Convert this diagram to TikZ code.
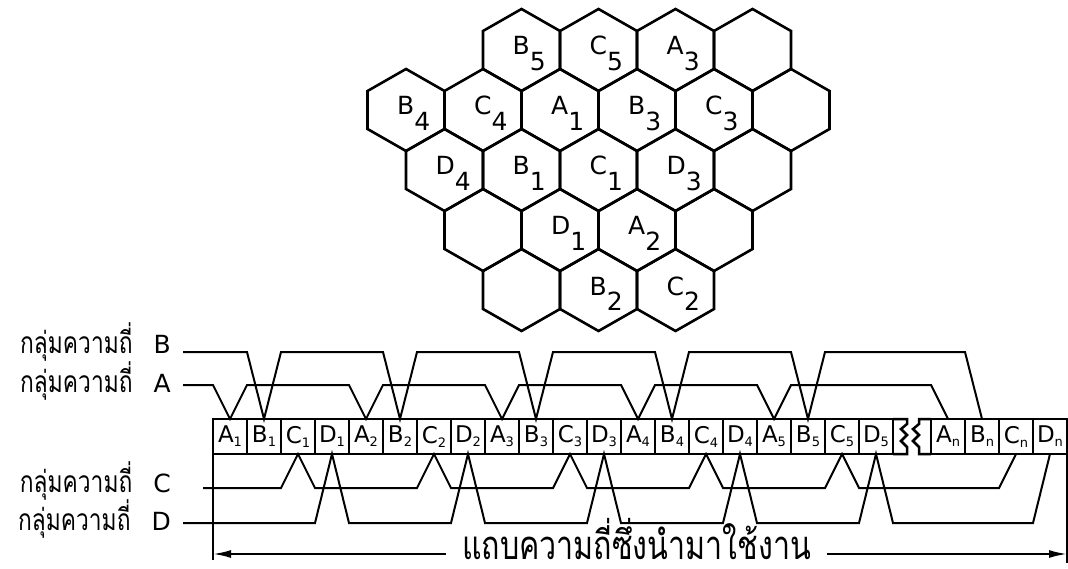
\documentclass[tikz,border=0pt]{standalone}
\usepackage{fontspec}
\setmainfont{DejaVu Sans}
\newfontfamily\thaifont[Script=Thai,FakeStretch=0.76]{Loma}
\usetikzlibrary{arrows.meta}
\newcommand\csub[1]{\raisebox{-4pt}{\fontsize{13}{13}\selectfont #1}}
\newcommand\hsub[1]{\raisebox{-16pt}{#1}}
\tikzset{hexline/.style={line width=2.6pt,line join=miter},hexlab/.style={font=\fontsize{25}{25}\selectfont,inner sep=0pt,anchor=base west},cell/.style={draw,line width=2.5pt,minimum width=34pt,minimum height=35pt,inner sep=0pt,outer sep=0pt,font=\fontsize{23}{23}\selectfont},bar/.style={line width=2.5pt},grp/.style={line width=2pt,line join=miter},grplab/.style={font=\fontsize{25}{25}\selectfont,inner sep=0pt,anchor=base east},band/.style={-{Latex[length=18pt,width=8pt]},line width=2pt}}

\begin{document}
\begin{tikzpicture}[x=1pt,y=-1pt]
\useasboundingbox (0,0) rectangle (1068,569);
% hexagonal cells
\foreach \cx/\cy in {521.5/50,598.5/50,675.5/50,752.5/50,406/110,483/110,560/110,637/110,714/110,791/110,444.5/170,521.5/170,598.5/170,675.5/170,752.5/170,483/230,560/230,637/230,714/230,521.5/290,598.5/290,675.5/290}
  \draw[hexline] (\cx,\cy) ++(0,-41) -- ++(38.5,22) -- ++(0,38) -- ++(-38.5,22) -- ++(-38.5,-22) -- ++(0,-38) -- cycle;
\foreach \cx/\cy/\X/\n in {521.5/50/B/5,598.5/50/C/5,675.5/50/A/3,406/110/B/4,483/110/C/4,560/110/A/1,637/110/B/3,714/110/C/3,444.5/170/D/4,521.5/170/B/1,598.5/170/C/1,675.5/170/D/3,560/230/D/1,637/230/A/2,598.5/290/B/2,675.5/290/C/2}
  \node[hexlab] (h\X\n) at (\cx-9,\cy+5) {\X\hsub{\n}};

% channel bar
\foreach \i in {1,...,5}
  \foreach \X [count=\j from 0] in {A,B,C,D}
    \node[cell] (c\X\i) at ({230+34*(4*\i-4+\j)},436.5) {\X\csub{\i}};
\foreach \X [count=\j from 0] in {A,B,C,D}
  \node[cell] (c\X n) at ({948+34*\j},436.5) {\X\csub{n}};
\draw[bar] (cD5.north east) -- ++(14,0) -- ++(0,5) -- ++(-6,5) -- ++(6,6) -- ++(-6,6) -- ++(6,6) -- ++(0,7) -- (cD5.south east);
\draw[bar] (cAn.north west) -- ++(-12,0) -- ++(0,5) -- ++(-6,5) -- ++(6,6) -- ++(-6,6) -- ++(6,6) -- ++(0,7) -- (cAn.south west);
\draw[bar] (cA1.north west) -- ++(0,141);
\draw[bar] (cDn.north east) -- ++(0,144);

% frequency groups
\node[grplab] (grpB) at (171,353) {{\thaifont\fontsize{30}{30}\selectfont กลุ่มความถี่}\hspace{21pt}B};
\node[grplab] (grpA) at (171,392) {{\thaifont\fontsize{30}{30}\selectfont กลุ่มความถี่}\hspace{21pt}A};
\node[grplab] (grpC) at (171,492) {{\thaifont\fontsize{30}{30}\selectfont กลุ่มความถี่}\hspace{21pt}C};
\node[grplab] (grpD) at (171,530) {{\thaifont\fontsize{30}{30}\selectfont กลุ่มความถี่}\hspace{21pt}D};
\coordinate (startB) at (183,352);
\coordinate (startA) at (183,385);
\coordinate (startC) at (203,488);
\coordinate (startD) at (183,523);
\draw[grp] (startA) \foreach \i in {1,...,5}{ -- (cA\i.north west |- startA) -- (cA\i.north) -- (cA\i.north east |- startA)} -- (cAn.north west |- startA) -- (cAn.north);
\draw[grp] (startB) \foreach \i in {1,...,5}{ -- (cB\i.north west |- startB) -- (cB\i.north) -- (cB\i.north east |- startB)} -- (cBn.north west |- startB) -- (cBn.north);
\draw[grp] (startC) \foreach \i in {1,...,5}{ -- (cC\i.south west |- startC) -- (cC\i.south) -- (cC\i.south east |- startC)} -- (cCn.south west |- startC) -- (cCn.south);
\draw[grp] (startD) \foreach \i in {1,...,5}{ -- (cD\i.south west |- startD) -- (cD\i.south) -- (cD\i.south east |- startD)} -- (cDn.south west |- startD) -- (cDn.south);

% used bandwidth
\node[font=\thaifont\fontsize{40}{40}\selectfont,inner xsep=16pt,inner ysep=0pt,anchor=base] (band) at (636.5,559) {แถบความถี่ซึ่งนำมาใช้งาน};
\coordinate (bandL) at (cA1.north west |- 0,554);
\coordinate (bandR) at (cDn.north east |- 0,554);
\draw[band] (band.west |- bandL) -- (bandL);
\draw[band] (band.east |- bandR) -- (bandR);
\end{tikzpicture}
\end{document}
